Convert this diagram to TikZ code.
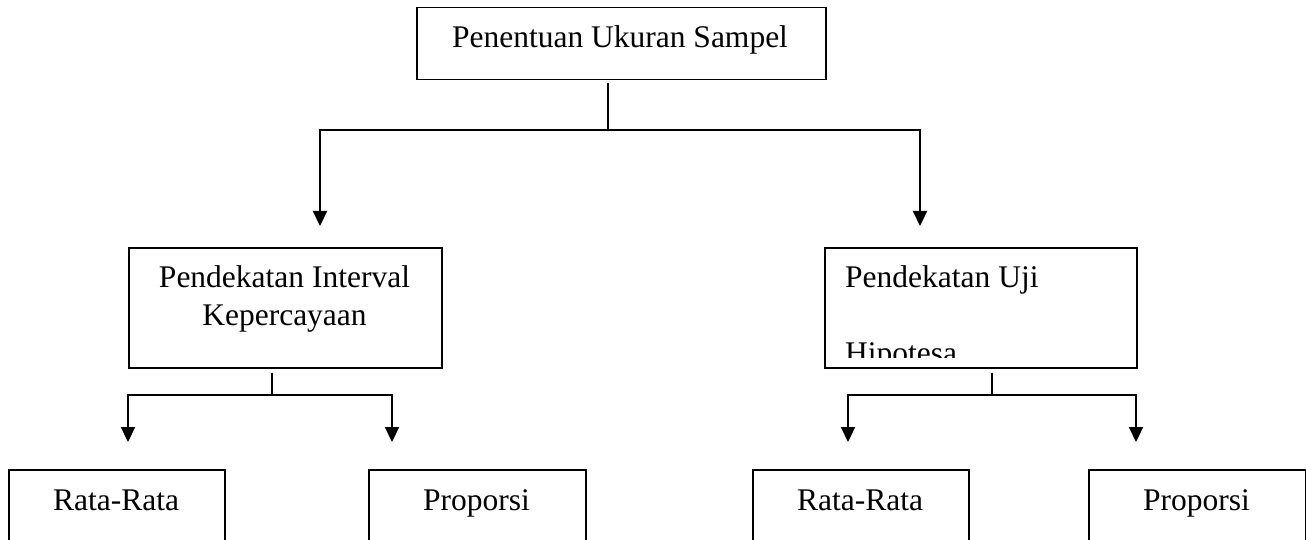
\documentclass[tikz,border=0pt]{standalone}
\usepackage{fontspec}
\setmainfont{Liberation Serif}
\usetikzlibrary{arrows.meta}
\begin{document}
\begin{tikzpicture}[x=1pt,y=-1pt,
  boxn/.style={draw,line width=1.5pt,rectangle,inner sep=0pt,anchor=north west},
  txt/.style={font=\fontsize{31.5}{38}\selectfont,inner sep=0pt,anchor=base},
  stem/.style={line width=1.4pt},
  arr/.style={line width=2.2pt,-{Triangle[width=14pt,length=15pt]}}]
\useasboundingbox (0,0) rectangle (1306,540);
\clip (0,0) rectangle (1306,540);
% top
\node[boxn,minimum width=409pt,minimum height=72pt] (top) at (416,7) {};
\node[txt] (ttop) at (620,48) {Penentuan Ukuran Sampel};
% middle left
\node[boxn,minimum width=313pt,minimum height=120pt] (bl) at (128,247) {};
\node[txt] (tbl1) at (284.5,287) {Pendekatan Interval};
\node[txt] (tbl2) at (284.5,325) {Kepercayaan};
% middle right
\node[boxn,minimum width=312pt,minimum height=120pt] (br) at (824,247) {};
\node[txt,anchor=base west] (tbr1) at (845,287) {Pendekatan Uji};
\begin{scope}
\clip (824,247) rectangle (1136,357);
\node[txt,anchor=base west] (tbr2) at (845,363) {Hipotesa};
\end{scope}
% bottom
\node[boxn,minimum width=216pt,minimum height=100pt] (b1) at (8,469) {};
\node[txt] (tb1) at (116,510) {Rata-Rata};
\node[boxn,minimum width=217pt,minimum height=100pt] (b2) at (368,469) {};
\node[txt] (tb2) at (476.5,510) {Proporsi};
\node[boxn,minimum width=216pt,minimum height=100pt] (b3) at (752,469) {};
\node[txt] (tb3) at (860,510) {Rata-Rata};
\node[boxn,minimum width=217pt,minimum height=100pt] (b4) at (1088,469) {};
\node[txt] (tb4) at (1196.5,510) {Proporsi};
% connectors level 1
\coordinate (j0) at (608,130);
\coordinate (a1) at (320,226);
\coordinate (a2) at (920,226);
\draw[stem] (top.south -| j0) ++(0,3) -- (j0);
\draw[arr] (j0) -| (a1);
\draw[arr] (j0) -| (a2);
% connectors level 2 left
\coordinate (j1) at (272,395);
\coordinate (a3) at (128,442);
\coordinate (a4) at (392,442);
\draw[stem] (bl.south -| j1) ++(0,4) -- (j1);
\draw[arr] (j1) -| (a3);
\draw[arr] (j1) -| (a4);
% connectors level 2 right
\coordinate (j2) at (992,395);
\coordinate (a5) at (848,442);
\coordinate (a6) at (1136,442);
\draw[stem] (br.south -| j2) ++(0,4) -- (j2);
\draw[arr] (j2) -| (a5);
\draw[arr] (j2) -| (a6);
\end{tikzpicture}
\end{document}
